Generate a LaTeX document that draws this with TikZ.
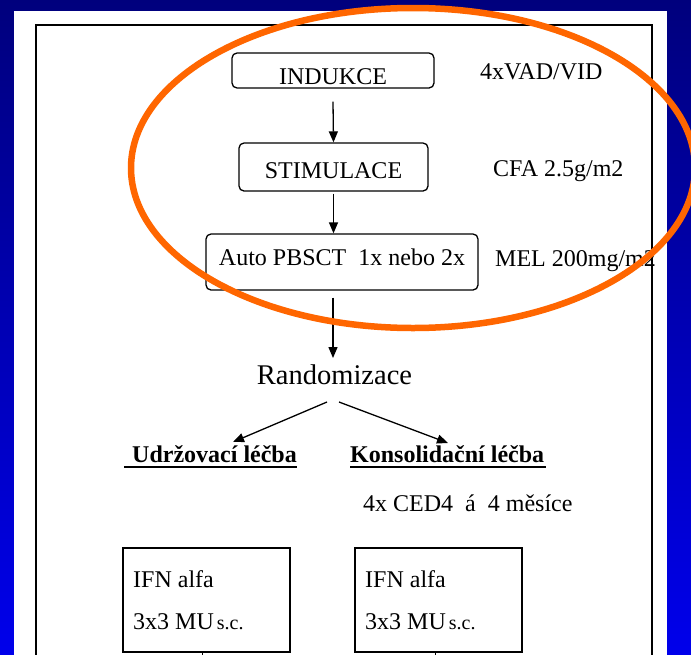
\documentclass[tikz,border=0pt]{standalone}
\usepackage{fontspec}
\setmainfont{Liberation Serif}
\usetikzlibrary{arrows.meta}

\begin{document}
\begin{tikzpicture}[x=1pt,y=-1pt,
  roundbox/.style={draw, line width=1.3pt, rounded corners=5pt, inner sep=0pt},
  plainbox/.style={draw, line width=1.3pt, inner sep=0pt},
  arr/.style={line width=1.3pt, -{Triangle[length=11pt,width=9pt]}},
  txt/.style={font=\fontsize{24}{28}\selectfont, inner sep=0pt},
  head/.style={font=\fontsize{24}{28}\selectfont\bfseries, inner sep=0pt},
  uline/.style={line width=2pt},
  small/.style={font=\fontsize{20}{22}\selectfont},
]
\useasboundingbox (0,0) rectangle (691,654);
\clip (0,0) rectangle (691,654);

% slide background and white sheet
\shade[top color={rgb,255:red,0;green,0;blue,125}, bottom color={rgb,255:red,0;green,0;blue,235}]
  (0,0) rectangle (691,654);
\fill[white] (14,11) rectangle (667,660);
\draw[line width=2pt] (36,660) |- (652,25) -- (652,660);

% treatment steps
\node[roundbox, minimum width=202pt, minimum height=35pt, txt, text height=27pt, text depth=0pt]
  (ind) at (333,70.5) {INDUKCE};
\node[roundbox, minimum width=189pt, minimum height=48pt, txt, text height=22pt, text depth=0pt]
  (stim) at (333.5,167) {STIMULACE};
\node[roundbox, minimum width=272pt, minimum height=56pt, txt, text height=16.4pt, text depth=9pt]
  (auto) at (342,262) {Auto PBSCT\ \ 1x nebo 2x};

% doses
\node[txt, anchor=base west] (vad) at (480,79) {4xVAD/VID};
\node[txt, anchor=base west] (cfa) at (493,176) {CFA 2.5g/m2};
\node[txt, anchor=base west] (mel) at (495,266.5) {MEL 200mg/m2};

% randomisation
\node[txt, font=\fontsize{28.5}{32}\selectfont, anchor=base] (rand) at (334.5,384) {Randomizace};
\coordinate (randtop) at (333,358);
\coordinate (splitl) at (327,402);
\coordinate (splitr) at (339,402);
\coordinate (tipl) at (233,442);
\coordinate (tipr) at (448,443);

\node[head, anchor=base west] (udr) at (132,462) {Udržovací léčba};
\node[head, anchor=base west] (kon) at (350,462) {Konsolidační léčba};
\draw[uline] (124,467) -- (297,467);
\draw[uline] (350,467) -- (546,467);

\node[txt, anchor=base west] (ced) at (363,511) {4x CED4\ \ á\ \ 4 měsíce};

% interferon boxes
\node[plainbox, minimum width=167pt, minimum height=104pt] (ifn1) at (206.5,600) {};
\node[plainbox, minimum width=167pt, minimum height=104pt] (ifn2) at (438.5,600) {};
\node[txt, anchor=base west] (ifn1a) at (133,587) {IFN alfa};
\node[txt, anchor=base west] (ifn1b) at (133,629) {3x3 MU\hspace{3pt}{\fontsize{20}{22}\selectfont s.c.}};
\node[txt, anchor=base west] (ifn2a) at (365,587) {IFN alfa};
\node[txt, anchor=base west] (ifn2b) at (365,629) {3x3 MU\hspace{3pt}{\fontsize{20}{22}\selectfont s.c.}};
\coordinate (down1) at (202,660);
\coordinate (down2) at (435,660);

% connectors
\draw[arr] ([yshift=-13pt]ind.south) -- (stim.north);
\draw[arr] ([yshift=-2pt]stim.south) -- (auto.north -| stim.south);
\draw[arr] ([xshift=-9pt,yshift=-7pt]auto.south) -- (randtop);
\draw[arr] (splitl) -- (tipl);
\draw[arr] (splitr) -- (tipr);
\draw[line width=1pt] (ifn1.south -| down1) -- (down1);
\draw[line width=1pt] (ifn2.south -| down2) -- (down2);

% highlight ring
\draw[line width=6.5pt, color={rgb,255:red,255;green,102;blue,0}] (413,168) ellipse [x radius=282pt, y radius=160pt];
\end{tikzpicture}
\end{document}
